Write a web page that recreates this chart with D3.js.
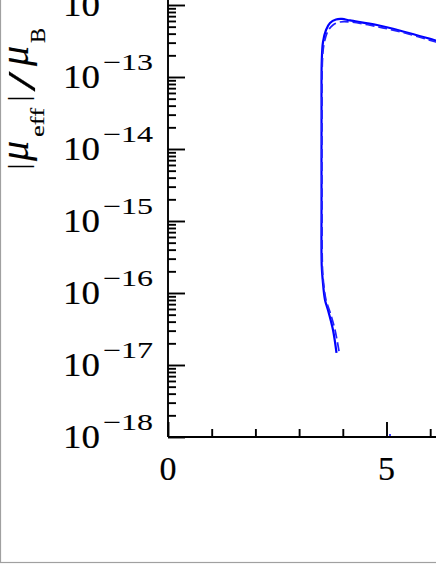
<!DOCTYPE html>
<html>
<head>
<meta charset="utf-8">
<script src="https://cdn.jsdelivr.net/npm/d3@7"></script>
<style>
body { margin: 0; background: #fff; }
</style>
</head>
<body>
<svg width="436" height="564"></svg>
<script>
// energy (x) and |mu_eff|/mu_B (y)
var solidX = [3.856, 3.776, 3.661, 3.593, 3.540, 3.517, 3.513, 3.513, 3.519, 3.547, 3.616, 3.707, 3.844, 3.982, 4.165, 4.783, 5.423, 6.133, 6.5];
var solidY = [1.47e-17, 3.06e-17, 5.81e-17, 8.0e-17, 1.52e-16, 2.45e-16, 1.96e-15, 2.53e-14, 1.72e-13, 3.06e-13, 4.50e-13, 5.62e-13, 6.30e-13, 6.40e-13, 6.10e-13, 5.27e-13, 4.22e-13, 3.21e-13, 2.79e-13];

var dashX = [3.913, 3.822, 3.707, 3.616, 3.558, 3.535, 3.524, 3.524, 3.535, 3.570, 3.661, 3.776, 3.936, 4.165, 4.783, 5.423, 6.133, 6.5];
var dashY = [1.56e-17, 3.06e-17, 5.45e-17, 8.0e-17, 1.42e-16, 2.22e-16, 1.96e-15, 2.53e-14, 1.72e-13, 2.87e-13, 4.36e-13, 5.27e-13, 5.81e-13, 5.81e-13, 5.02e-13, 4.08e-13, 3.06e-13, 2.66e-13];

var strayX = [5.08];
var strayY = [1.07e-18];

var xMajor = [0, 5];
var xMinor = [1, 2, 3, 4, 6, 7];
var yExponents = [-18, -17, -16, -15, -14, -13, -12];

var svg = d3.select("svg"),
 width = +svg.attr("width"),
 height = +svg.attr("height");

var x0 = 168, y0 = 437, decade = 72;
var serif = "Liberation Serif, serif";

var x = d3.scaleLinear().domain([0, 5]).range([x0, x0 + 218.5]);
var y = d3.scaleLog().domain([1e-18, 1e-12]).range([y0, y0 - 6 * decade]);

// gray frame of the original figure
svg.append("rect")
  .attr("x", 0.5).attr("y", -10)
  .attr("width", width + 20).attr("height", 572.5)
  .attr("fill", "none")
  .attr("stroke", "#a0a0a0")
  .attr("stroke-width", 1.2);

// minor ticks on the log axis
var yMinor = [];
yExponents.forEach(function(e) {
  for (var m = 2; m <= 9; m++) {
    var v = m * Math.pow(10, e);
    if (v < 1e-11) yMinor.push(v);
  }
});
var yMajor = yExponents.map(function(e) { return Math.pow(10, e); });

var gy = svg.append("g").attr("transform", "translate(" + x0 + ",0)");
gy.append("g").call(d3.axisRight(y).tickValues(yMinor).tickSize(8).tickSizeOuter(0).tickFormat(""));
gy.append("g").call(d3.axisRight(y).tickValues(yMajor).tickSize(17).tickSizeOuter(0).tickFormat(""));
gy.selectAll("path.domain").remove();
gy.append("line")
  .attr("x1", 0).attr("x2", 0)
  .attr("y1", y0).attr("y2", -5);

var gx = svg.append("g").attr("transform", "translate(0," + y0 + ")");
gx.append("g").call(d3.axisTop(x).tickValues(xMinor).tickSize(8).tickSizeOuter(0).tickFormat(""));
gx.append("g").call(d3.axisTop(x).tickValues(xMajor).tickSize(15).tickSizeOuter(0).tickFormat(""));
gx.selectAll("path.domain").remove();
gx.append("line")
  .attr("x1", x0).attr("x2", width + 5)
  .attr("y1", 0).attr("y2", 0);

svg.selectAll(".tick line, g > line")
  .attr("stroke", "#000")
  .attr("stroke-width", 1.9);

// y tick labels 10^e
var ylab = svg.append("g")
  .attr("font-family", serif)
  .attr("fill", "#000")
  .attr("stroke", "#000")
  .attr("stroke-width", 0.2)
  .selectAll("g")
  .data(yExponents)
  .enter().append("g");
ylab.append("text")
  .attr("x", 63)
  .attr("y", function(e) { return y(Math.pow(10, e)) + 11; })
  .attr("font-size", 34)
  .attr("textLength", 37)
  .attr("lengthAdjust", "spacingAndGlyphs")
  .text("10");
ylab.append("text")
  .attr("x", 103)
  .attr("y", function(e) { return y(Math.pow(10, e)) - 7; })
  .attr("font-size", 23)
  .attr("stroke-width", 0.1)
  .attr("textLength", 50)
  .attr("lengthAdjust", "spacingAndGlyphs")
  .text(function(e) { return "\u2212" + (-e); });

// x tick labels
svg.append("g")
  .attr("font-family", serif)
  .attr("font-size", 34)
  .attr("stroke", "#000")
  .attr("stroke-width", 0.2)
  .selectAll("text")
  .data(xMajor)
  .enter().append("text")
  .attr("text-anchor", "middle")
  .attr("x", function(d) { return x(d); })
  .attr("y", 480)
  .text(function(d) { return d; });

// y axis title |mu_eff| / mu_B, piece by piece along the rotated baseline
var titleParts = ["|", "\u03bc", "eff", "|", "/", "\u03bc", "B"];
var titleCenters = [166.5, 151, 122.5, 98.5, 81.5, 56, 35.5];
var titleSizes = [30, 40, 18, 30, 40, 40, 20];
var titleShift = [0, 0, 16, 0, 7, 0, 17];
var titleItalic = [false, true, false, false, false, true, false];
var titleLen = [null, null, 29, null, 20, null, 15];

var tg = svg.append("g")
  .attr("font-family", serif)
  .attr("stroke", "#000")
  .attr("stroke-width", 0.15)
  .attr("transform", "translate(28,180) rotate(-90)");
titleParts.forEach(function(t, i) {
  var el = tg.append("text")
    .attr("text-anchor", "middle")
    .attr("x", 180 - titleCenters[i])
    .attr("y", titleShift[i])
    .attr("font-size", titleSizes[i])
    .attr("font-style", titleItalic[i] ? "italic" : "normal")
    .text(t);
  if (titleLen[i]) el.attr("textLength", titleLen[i]).attr("lengthAdjust", "spacingAndGlyphs");
});

// curves
var line = d3.line()
  .x(function(d) { return x(d[0]); })
  .y(function(d) { return y(d[1]); })
  .curve(d3.curveCatmullRom);

svg.append("path")
  .datum(d3.zip(solidX, solidY))
  .attr("d", line)
  .attr("fill", "none")
  .attr("stroke", "#0000ff")
  .attr("stroke-width", 2.2);

svg.append("path")
  .datum(d3.zip(dashX, dashY))
  .attr("d", line)
  .attr("fill", "none")
  .attr("stroke", "#2020ff")
  .attr("stroke-width", 1.7)
  .attr("stroke-dasharray", "9,4");

svg.selectAll(".stray")
  .data(d3.zip(strayX, strayY))
  .enter().append("circle")
  .attr("class", "stray")
  .attr("cx", function(d) { return x(d[0]); })
  .attr("cy", function(d) { return y(d[1]); })
  .attr("r", 1)
  .attr("fill", "#0000ff");
</script>
</body>
</html>
